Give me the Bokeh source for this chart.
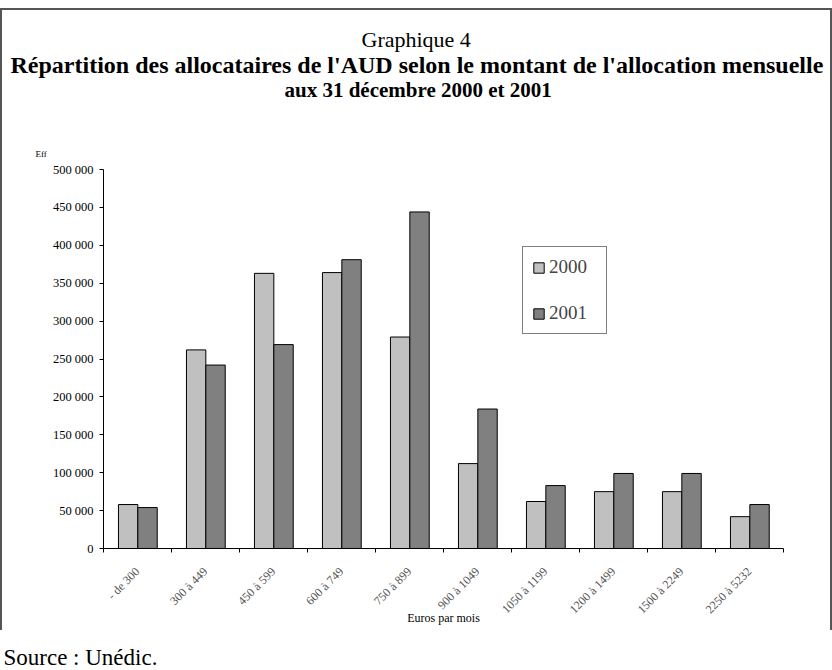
from bokeh.plotting import figure
from bokeh.models import Range1d, FixedTicker, Title, Legend, LegendItem, ColumnDataSource
from bokeh.embed import file_html
from bokeh.resources import INLINE

categories = ["- de 300", "300 à 449", "450 à 599", "600 à 749", "750 à 899",
              "900 à 1049", "1050 à 1199", "1200 à 1499", "1500 à 2249", "2250 à 5232"]
values_2000 = [58000, 262000, 363000, 364000, 279000, 112000, 62000, 75000, 75000, 42000]
values_2001 = [54000, 242000, 269000, 381000, 444000, 184000, 83000, 99000, 99000, 58000]
y_ticks = [0, 50000, 100000, 150000, 200000, 250000, 300000, 350000, 400000, 450000, 500000]
y_tick_labels = ["0", "50 000", "100 000", "150 000", "200 000", "250 000",
                 "300 000", "350 000", "400 000", "450 000", "500 000"]
series_names = ["2000", "2001"]

W, H = 832, 670
FL, FR, FT, FB = 103, 783, 169, 548   # frame edges in pixels
SERIF = "Liberation Serif"
YMAX = 500000

n = len(categories)
idx = list(range(n))
bar_w = 0.285
src = ColumnDataSource(dict(
    x2000=[i + 0.505 - bar_w / 2 for i in idx],
    x2001=[i + 0.505 + bar_w / 2 for i in idx],
    v2000=values_2000,
    v2001=values_2001,
))

frame_css = ("linear-gradient(#555,#555) 0px 8px / 832px 2px no-repeat, "
             "linear-gradient(#555,#555) 0px 8px / 2px 622px no-repeat, "
             "linear-gradient(#555,#555) 830px 8px / 2px 622px no-repeat, white")

p = figure(width=W, height=H, output_backend="svg", toolbar_location=None,
           x_range=Range1d(0, n), y_range=Range1d(0, YMAX),
           min_border_left=FL, min_border_right=W - FR, min_border_top=FT, min_border_bottom=H - FB,
           styles={"background": frame_css})
p.background_fill_color = "white"
p.border_fill_alpha = 0
p.outline_line_color = None
p.xgrid.grid_line_color = None
p.ygrid.grid_line_color = None

r1 = p.vbar(x="x2000", top="v2000", bottom=0, width=bar_w, source=src,
            fill_color="#c0c0c0", line_color="black", line_width=1)
r2 = p.vbar(x="x2001", top="v2001", bottom=0, width=bar_w, source=src,
            fill_color="#808080", line_color="black", line_width=1)

xa = p.xaxis[0]
xa.ticker = FixedTicker(ticks=[i + 0.5 for i in idx], minor_ticks=list(range(n + 1)))
xa.major_label_overrides = {i + 0.5: c for i, c in zip(idx, categories)}
xa.major_tick_out = 0
xa.major_tick_in = 0
xa.minor_tick_out = 4
xa.minor_tick_in = 0
xa.major_label_orientation = 0.785398
xa.major_label_standoff = 17
xa.major_label_text_font = SERIF
xa.major_label_text_font_size = "12px"
xa.major_label_text_color = "#555555"
xa.axis_line_color = "black"
xa.minor_tick_line_color = "black"
xa.axis_label = "Euros par mois"
xa.axis_label_text_font = SERIF
xa.axis_label_text_font_size = "12px"
xa.axis_label_text_font_style = "normal"
xa.axis_label_text_color = "black"
xa.axis_label_standoff = -13

ya = p.yaxis[0]
ya.ticker = FixedTicker(ticks=y_ticks, minor_ticks=[])
ya.major_label_overrides = {t: l for t, l in zip(y_ticks, y_tick_labels)}
ya.major_tick_out = 4
ya.major_tick_in = 0
ya.minor_tick_out = 0
ya.minor_tick_in = 0
ya.major_label_standoff = 6
ya.major_label_text_font = SERIF
ya.major_label_text_font_size = "12.5px"
ya.major_label_text_color = "black"
ya.axis_line_color = "black"
ya.major_tick_line_color = "black"

legend = Legend(items=[LegendItem(label=series_names[0], renderers=[r1]),
                       LegendItem(label=series_names[1], renderers=[r2])],
                location=(419, 214))
legend.label_text_font = SERIF
legend.label_text_font_size = "19px"
legend.label_height = 20
legend.label_width = 48
legend.glyph_width = 13
legend.glyph_height = 13
legend.spacing = 24
legend.padding = 9
legend.label_standoff = 4
legend.border_line_color = "black"
legend.border_line_width = 1
legend.background_fill_color = "white"
legend.background_fill_alpha = 1
p.add_layout(legend, "center")

def style_title(t, text, size, bold, standoff, left_px):
    t.text = text
    t.align = "left"
    t.offset = left_px - FL
    t.text_font = SERIF
    t.text_font_size = size
    t.text_font_style = "bold" if bold else "normal"
    t.text_color = "black"
    t.standoff = standoff

def add_title(text, size, bold, standoff, left_px, where="above"):
    t = Title()
    style_title(t, text, size, bold, standoff, left_px)
    p.add_layout(t, where)

# outermost title
style_title(p.title, "Graphique 4", "22px", False, 0, 361)
# above the frame, nearest first
add_title("Eff", "9px", False, 22, 35)
add_title(" ", "9px", False, 22, 35)
add_title("aux 31 décembre 2000 et 2001", "21px", True, 0, 284)
add_title("Répartition des allocataires de l'AUD selon le montant de l'allocation mensuelle", "24px", True, -4, 10)
# below the axis
add_title(" ", "9px", False, 3, 3, where="below")
add_title("Source : Unédic.", "23px", False, -2, 3, where="below")

open("out.html", "w").write(file_html(p, INLINE))
